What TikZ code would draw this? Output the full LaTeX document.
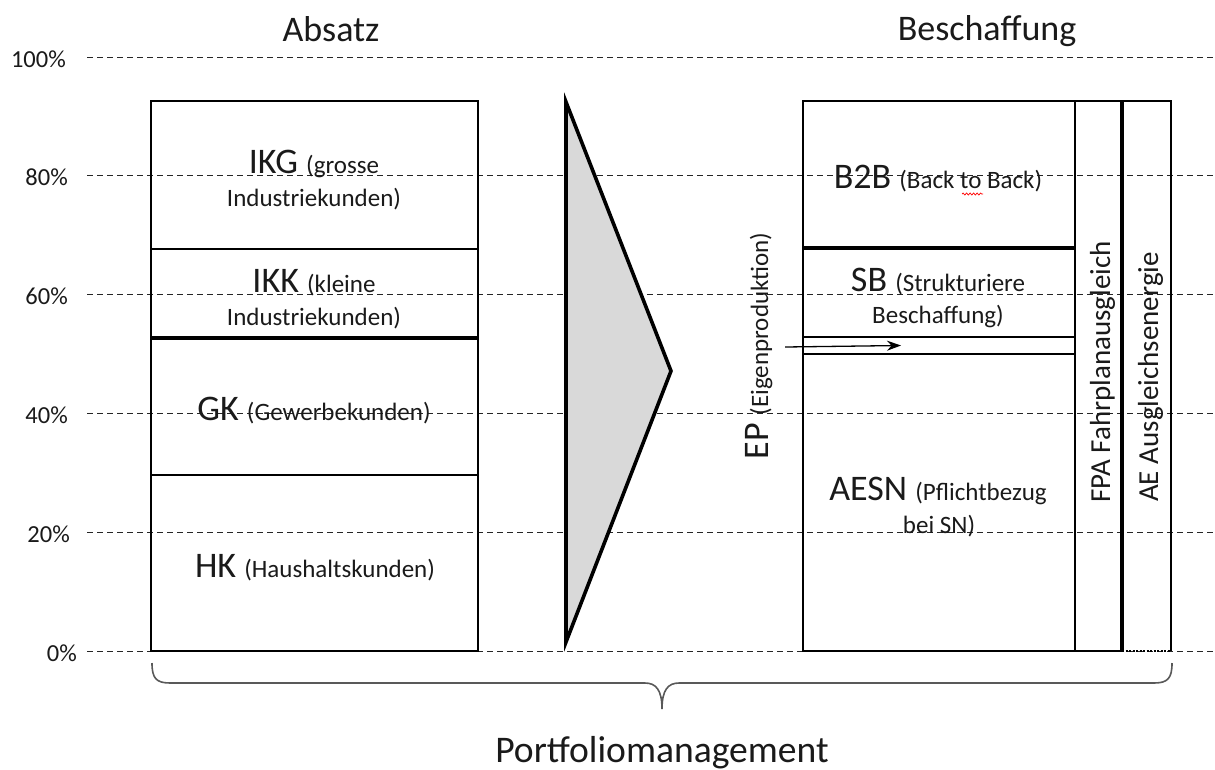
\documentclass[tikz,border=0pt]{standalone}
\usepackage{fontspec}
\setmainfont{Carlito}
\usetikzlibrary{arrows.meta,decorations.pathmorphing}
\newcommand\fBig{\fontsize{36}{40}\selectfont}
\newcommand\fPm{\fontsize{37.6}{42}\selectfont}
\newcommand\fSm{\fontsize{25}{28}\selectfont}
\newcommand\fAx{\fontsize{24.5}{27}\selectfont}
\newcommand\fRot{\fontsize{29}{32}\selectfont}
\definecolor{triGray}{HTML}{D9D9D9}
\definecolor{braceGray}{HTML}{595959}
\definecolor{txt}{HTML}{1A1A1A}
\begin{document}
\begin{tikzpicture}[x=1pt,y=-1pt,
  grid/.style={draw=black!85, line width=1pt, dash pattern=on 6pt off 4pt},
  boxline/.style={draw=black, line width=2.7pt},
  thickline/.style={draw=black, line width=3.4pt},
  thinline/.style={draw=black, line width=2.1pt},
  lbl/.style={inner sep=0pt, anchor=base, text=txt},
  ax/.style={inner sep=0pt, anchor=east, text=txt, font=\fAx},
  rot/.style={inner sep=0pt, anchor=base, rotate=90, text=txt}]
\useasboundingbox (0,0) rectangle (1215,769);
% axis labels
\node[ax] (p100) at (66,59) {100\%};
\node[ax] (p80) at (68,177) {80\%};
\node[ax] (p60) at (68,296) {60\%};
\node[ax] (p40) at (68,415) {40\%};
\node[ax] (p20) at (70,534) {20\%};
\node[ax] (p0) at (77,653) {0\%};
% grid lines
\foreach \yy in {57,175.8,294.6,413.4,532.2,651}
  \draw[grid] (87,\yy) -- (1215,\yy);
% headings
\node[lbl] (absatz) at (331,41) {\fBig Absatz};
\node[lbl] (beschaffung) at (987,40) {\fBig Beschaffung};
% left stacked box
\draw[boxline] (151,101) rectangle (478,651);
\draw[boxline] (151,249) -- (478,249);
\draw[thickline] (151,338) -- (478,338);
\draw[boxline] (151,475) -- (478,475);
\node[lbl] (ikg) at (314,173) {{\fBig IKG }{\fSm (grosse}};
\node[lbl] (ikgb) at (314,206) {\fSm Industriekunden)};
\node[lbl] (ikk) at (314,292) {{\fBig IKK }{\fSm (kleine}};
\node[lbl] (ikkb) at (314,325) {\fSm Industriekunden)};
\node[lbl] (gk) at (314,420) {{\fBig GK }{\fSm (Gewerbekunden)}};
\node[lbl] (hk) at (315,577) {{\fBig HK }{\fSm (Haushaltskunden)}};
% triangle
\draw[line width=3.6pt, fill=triGray, line join=miter] (566,102) -- (671,371) -- (566,642) -- cycle;
% right stacked box
\draw[boxline] (803,101) rectangle (1075,651);
\draw[thickline] (803,248) -- (1075,248);
\draw[thinline] (803,337) -- (1075,337);
\draw[thinline] (803,354) -- (1075,354);
\draw[boxline] (1122,651) -- (1122,101) -- (1171,101) -- (1171,651);
\draw[thinline] (1075,101) -- (1122,101);
\draw[thinline] (1075,651) -- (1122,651);
\draw[line width=3.6pt] (1122,101) -- (1122,651);
\draw[line width=2pt, dash pattern=on 2pt off 1.5pt] (1122,651) -- (1171,651);
\node[lbl] (b2b) at (938,188) {{\fBig B2B }{\fSm (Back to Back)}};
\draw[red, line width=0.7pt, decorate, decoration={snake, segment length=3.5pt, amplitude=1pt}] (962,194) -- (983,194);
\node[lbl] (sb) at (938,291) {{\fBig SB }{\fSm (Strukturiere}};
\node[lbl] (sbb) at (938,323) {\fSm Beschaffung)};
\node[lbl] (aesn) at (938,500) {{\fBig AESN }{\fSm (Pflichtbezug}};
\node[lbl] (aesnb) at (939,533) {\fSm bei SN)};
\node[rot] (ep) at (768,346) {{\fBig EP }{\fSm (Eigenproduktion)}};
\node[rot] (fpa) at (1110,372) {\fRot FPA Fahrplanausgleich};
\node[rot] (ae) at (1158,377) {\fRot AE Ausgleichsenergie};
% arrow
\coordinate (epa) at (785,347);
\coordinate (epb) at (901,345.5);
\draw[line width=1.3pt, -{Stealth[length=14pt,width=10pt]}] (epa) -- (epb);
% brace
\coordinate (bl) at (152,663);
\coordinate (bt) at (662,709);
\coordinate (br) at (1172,663);
\draw[braceGray, line width=1.6pt] (bl) .. controls (152,678) and (156,683) .. (170,683)
  -- (645,683) .. controls (656,683) and (662,690) .. (bt)
  .. controls (662,690) and (668,683) .. (679,683)
  -- (1154,683) .. controls (1168,683) and (1172,678) .. (br);
\node[lbl] (pm) at (662,762) {\fPm Portfoliomanagement};
\end{tikzpicture}
\end{document}
